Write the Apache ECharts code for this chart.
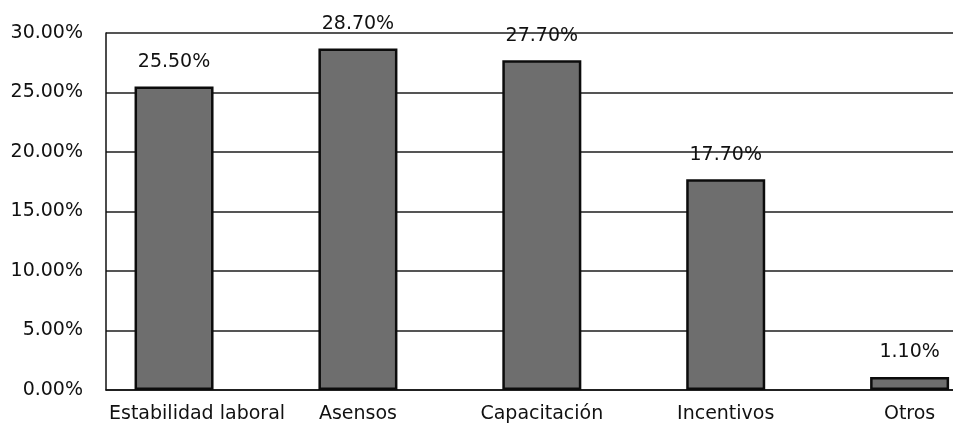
<!DOCTYPE html>
<html>
<head>
<meta charset="utf-8">
<script src="https://cdn.jsdelivr.net/npm/echarts@6/dist/echarts.min.js"></script>
<style>
  html, body { margin: 0; padding: 0; background: #ffffff; }
  #chart { width: 953px; height: 425px; }
</style>
</head>
<body>
<div id="chart"></div>
<script>
// Motivation factors and their share of responses (%)
const categories = ['Estabilidad laboral', 'Asensos', 'Capacitación', 'Incentivos', 'Otros'];
const shares = [25.5, 28.7, 27.7, 17.7, 1.1];
const yTicks = [0, 5, 10, 15, 20, 25, 30];

const FONT = 'DejaVu Sans';
const INK = '#111111';

const chart = echarts.init(document.getElementById('chart'), null, { renderer: 'canvas' });

const pct = v => v.toFixed(2) + '%';

chart.setOption({
  animation: false,
  backgroundColor: '#ffffff',
  grid: { left: 106, right: 0, top: 33, bottom: 35, containLabel: false },
  xAxis: {
    type: 'value',
    // categories sit at integer positions; the plot is wider on the right
    min: -0.37,
    max: 4.236,
    splitLine: { show: false },
    axisTick: { show: false },
    axisLine: { show: true, onZero: false, lineStyle: { color: INK, width: 1.5 } },
    axisLabel: {
      customValues: categories.map((c, i) => i),
      margin: 15,
      color: INK,
      fontFamily: FONT,
      fontSize: 19,
      formatter: v => {
        const name = categories[Math.round(v)];
        return Math.round(v) === 0 ? '{first|' + name + '}' : name;
      },
      rich: {
        first: { padding: [0, 0, 0, 46], color: INK, fontFamily: FONT, fontSize: 19 }
      }
    }
  },
  yAxis: {
    type: 'value',
    min: yTicks[0],
    max: yTicks[yTicks.length - 1],
    interval: 5,
    axisLine: { show: true, onZero: false, lineStyle: { color: INK, width: 1.5 } },
    axisTick: { show: false },
    splitLine: { show: true, lineStyle: { color: '#1c1c1c', width: 1.5 } },
    axisLabel: {
      margin: 23,
      color: INK,
      fontFamily: FONT,
      fontSize: 19,
      formatter: v => pct(v)
    }
  },
  series: [{
    type: 'bar',
    barWidth: 79,
    data: categories.map((c, i) => [i, shares[i]]),
    itemStyle: {
      color: '#6e6e6e',
      borderColor: '#0c0c0c',
      borderWidth: 2.5
    },
    label: {
      show: true,
      position: 'top',
      distance: 15,
      color: INK,
      fontFamily: FONT,
      fontSize: 19,
      formatter: p => pct(p.value[1])
    }
  }]
});
</script>
</body>
</html>
